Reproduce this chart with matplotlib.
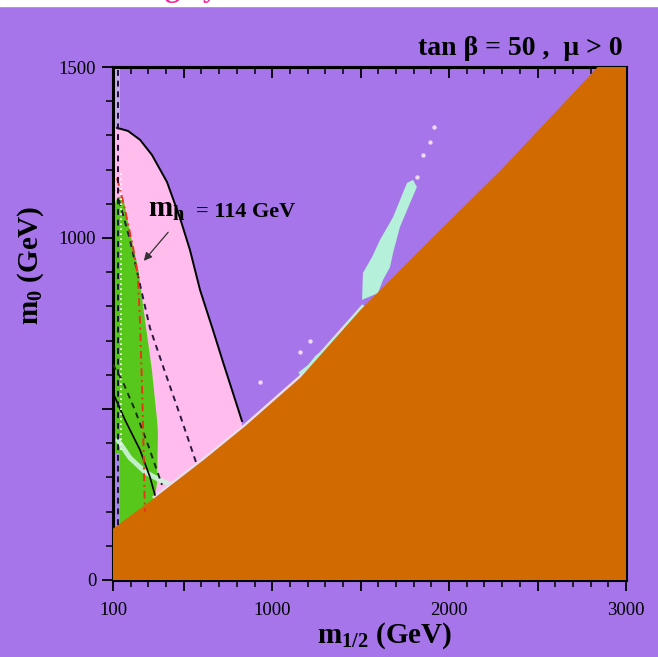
import numpy as np
import matplotlib
matplotlib.use("Agg")
import matplotlib.pyplot as plt
from matplotlib.patches import Rectangle
from matplotlib.ticker import FixedLocator, FixedFormatter

plt.rcParams["font.family"] = ["Liberation Serif", "DejaVu Serif"]
plt.rcParams["mathtext.fontset"] = "custom"
plt.rcParams["mathtext.rm"] = "Liberation Serif"
plt.rcParams["mathtext.bf"] = "Liberation Serif:bold"

BG = "#A675EA"
ORANGE = "#D26A02"
PINK = "#FFBCEC"
GREEN = "#58C71C"
AQUA = "#B4F0DA"

# stau-LSP (charged LSP) boundary, m1/2 vs m0 in GeV
stau_x = [100, 340, 620, 850, 1160, 1500, 1900, 2290, 2630, 2840]
stau_y = [150, 242, 354, 451, 592, 790, 998, 1197, 1384, 1500]

# g-2 favoured region (pink), upper solid contour
g2_x = [100, 123, 185, 253, 320, 405, 479, 535, 592, 665, 722, 778, 829]
g2_y = [1322, 1322, 1313, 1287, 1243, 1164, 1058, 965, 848, 731, 637, 547, 465]

# b -> s gamma excluded region (green)
bsg_x = [100, 128, 157, 196, 241, 281, 320, 349, 354, 349, 337]
bsg_y = [1090, 1120, 1120, 1015, 915, 760, 614, 468, 430, 284, 243]

# m_h = 114 GeV contour (red dash-dot)
mh_x = [123, 168, 213, 241, 252, 262, 270, 276, 280]
mh_y = [1175, 1082, 974, 886, 760, 600, 450, 300, 200]

# black dashed contours
dashA_x = [134, 196, 253, 309, 394, 479, 569]
dashA_y = [1111, 994, 863, 737, 608, 482, 345]
dashB_x = [100, 123, 151, 224, 298, 377]
dashB_y = [630, 608, 585, 497, 395, 278]
# black solid contour, lower left
solid_x = [100, 168, 253, 309, 337]
solid_y = [547, 468, 380, 301, 249]

# chargino limit verticals
lep_black_x = 128
lep_white_x = 145

# relic density: rapid-annihilation funnel blob and coannihilation strip
funnel_x = [1508, 1513, 1564, 1609, 1683, 1739, 1762, 1796, 1818, 1779, 1722,
            1683, 1666, 1626, 1598]
funnel_y = [819, 898, 944, 994, 1061, 1132, 1161, 1170, 1149, 1102, 1032,
            956, 915, 877, 839]
band_x = [128, 196, 281, 366, 433]
band_y = [409, 357, 316, 292, 278]
wave_x = [1160, 1210, 1250, 1300, 1340, 1390, 1430, 1470, 1510]
wave_y = [606, 626, 652, 672, 700, 722, 752, 772, 800]
dots_x = [931, 1157, 1212, 1818, 1852, 1892, 1915]
dots_y = [579, 667, 698, 1178, 1243, 1281, 1325]

fig = plt.figure(figsize=(6.58, 6.57), dpi=100, facecolor=BG)
ax = fig.add_axes([113 / 658, 1 - 580 / 657, 513 / 658, 513 / 657])
ax.set_facecolor(BG)
ax.set_xlim(100, 3000)
ax.set_ylim(0, 1500)

# filled regions, back to front
ax.fill(g2_x + [829, 100], g2_y + [0, 0], color=PINK, lw=0, zorder=1)
ax.fill([100, 140, 140, 100], [1322, 1322, 1500, 1500], color="#C4ADE6",
        lw=0, zorder=1)
ax.fill(bsg_x + [337, 100], bsg_y + [0, 0], color=GREEN, lw=0, zorder=2)
ax.fill([100, 138, 138, 100], [0, 0, 372, 372], color="#A887EC", lw=0,
        zorder=2)
ax.plot(band_x, band_y, color="#CFF3DF", lw=3.5, solid_capstyle="round",
        alpha=0.9, zorder=3)
ax.plot(stau_x[1:6], stau_y[1:6], color="#EADCF0", lw=3.5, zorder=3)
ax.plot(wave_x, wave_y, color=AQUA, lw=2.2, zorder=3)
ax.fill(funnel_x, funnel_y, color=AQUA, lw=0, zorder=3)
ax.scatter(dots_x, dots_y, s=10, color="#EED8F2", lw=0, zorder=3)
ax.fill(stau_x + [3000, 3000, 100], stau_y + [1500, 0, 0], color=ORANGE,
        lw=0, zorder=4)

# contours
ax.plot(g2_x[1:], g2_y[1:], color="k", lw=1.4, zorder=5)
ax.plot(solid_x, solid_y, color="k", lw=1.2, zorder=5)
ax.plot(dashA_x, dashA_y, color="#2a1840", lw=1.4, ls=(0, (3, 2.5)), zorder=5)
ax.plot(dashB_x, dashB_y, color="#1c2a10", lw=1.4, ls=(0, (3, 2.5)), zorder=5)
ax.plot(mh_x, mh_y, color="#E8341A", lw=1.4, ls=(0, (4, 2, 1, 2)), zorder=5)
ax.plot([lep_black_x, lep_black_x], [162, 1500], color="#1a1030", lw=1.4,
        ls=(0, (3, 2.5)), zorder=5)
ax.plot([lep_white_x, lep_white_x], [380, 1200], color="white", lw=1.2,
        ls=(0, (1, 2)), zorder=5)

ax.annotate("", xy=(264, 927), xytext=(422, 1023), zorder=6,
            arrowprops=dict(arrowstyle="-|>", color="#333333", lw=0.9,
                            mutation_scale=12))
ax.text(298, 1061, r"$\mathbf{m_h}$", fontsize=21, ha="left",
        va="baseline", zorder=6)
ax.text(569, 1061, "= 114 GeV", fontsize=16, fontweight="bold", ha="left",
        va="baseline", zorder=6)

# axes frame and ticks
for s in ax.spines.values():
    s.set_linewidth(2.2)
ax.xaxis.set_major_locator(FixedLocator([100, 500, 1000, 1500, 2000, 2500, 3000]))
ax.xaxis.set_major_formatter(FixedFormatter(["100", "", "1000", "", "2000", "", "3000"]))
ax.xaxis.set_minor_locator(FixedLocator(np.arange(200, 3000, 100)))
ax.yaxis.set_major_locator(FixedLocator([0, 500, 1000, 1500]))
ax.yaxis.set_major_formatter(FixedFormatter(["0", "", "1000", "1500"]))
ax.yaxis.set_minor_locator(FixedLocator(np.arange(100, 1500, 100)))
ax.tick_params(which="major", length=8, width=1.3, labelsize=13.5,
               direction="out")
ax.tick_params(which="minor", length=5, width=1.1, direction="out")
ax.tick_params(axis="x", pad=8)
ax.tick_params(axis="y", pad=4)

top = ax.secondary_xaxis("top")
top.xaxis.set_major_locator(FixedLocator([500, 1000, 1500, 2000, 2500]))
top.xaxis.set_minor_locator(FixedLocator(np.arange(200, 3000, 100)))
top.tick_params(which="major", direction="in", length=8, width=1.3,
                labeltop=False)
top.tick_params(which="minor", direction="in", length=5, width=1.1)
top.spines["top"].set_linewidth(2.2)

ax.set_xlabel(r"$\mathbf{m_{1/2}}$ (GeV)", fontsize=21, fontweight="bold")
ax.xaxis.set_label_coords(0.53, -0.078)
ax.set_ylabel(r"$\mathbf{m_0}$ (GeV)", fontsize=21, fontweight="bold")
ax.yaxis.set_label_coords(-0.13, 0.614)

fig.text(623 / 658, 1 - 55 / 657, "tan \u03b2 = 50 ,  \u03bc > 0", fontsize=20,
         fontweight="bold", ha="right", va="baseline")

# white strip at the top with the cut-off heading
fig.patches.append(Rectangle((0, 1 - 6 / 657), 1, 6 / 657,
                             transform=fig.transFigure, color="white",
                             zorder=0))
fig.text(165 / 658, 1 + 4 / 657, "g   y", color="#E8309A", fontsize=22,
         fontweight="bold", ha="left", va="baseline")

fig.savefig("out.png", dpi=100, facecolor=BG)
